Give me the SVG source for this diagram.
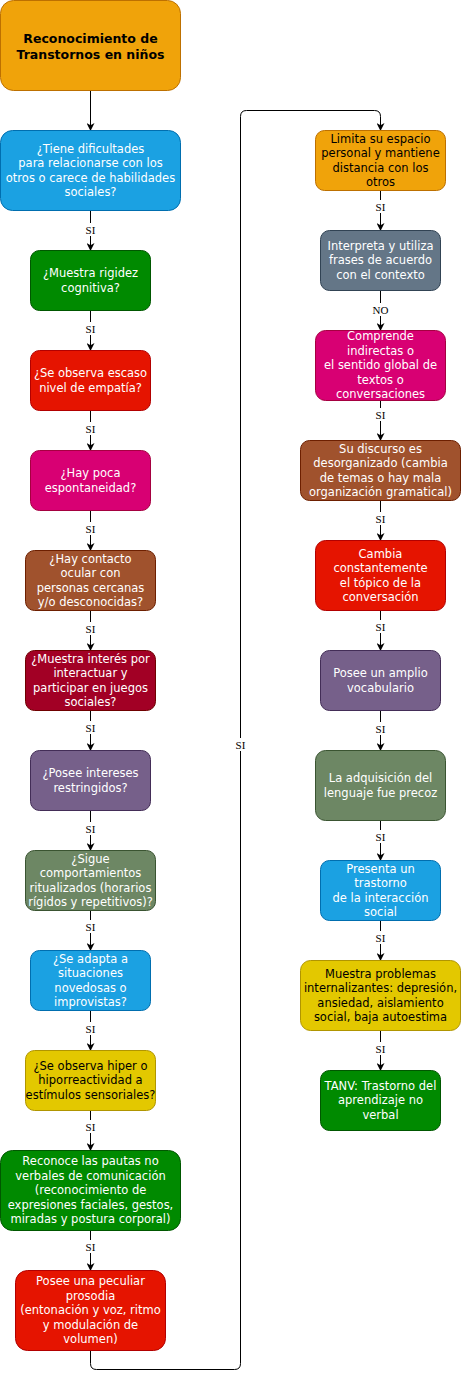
<svg xmlns="http://www.w3.org/2000/svg" width="461" height="1379" viewBox="0 0 461 1379">
<defs>
<marker id="arr" viewBox="0 0 8 8" refX="7.5" refY="4" markerWidth="8" markerHeight="8" markerUnits="userSpaceOnUse" orient="auto">
<path d="M0,0 L8,4 L0,8 L2.2,4 Z" fill="#000"/>
</marker>
<style>
.n{stroke-width:1}
.t{font-family:"DejaVu Sans","Liberation Sans",sans-serif;font-size:11.5px;text-anchor:middle;fill:#fff}
.d{fill:#000}
.tb{font-family:"DejaVu Sans","Liberation Sans",sans-serif;font-size:12.5px;font-weight:bold;text-anchor:middle;fill:#000}
.e{fill:none;stroke:#000;stroke-width:1;marker-end:url(#arr)}
.lb{fill:#fff}
.l{font-family:"Liberation Serif","DejaVu Serif",serif;font-size:11px;text-anchor:middle;fill:#000}
.orange{fill:#f0a30a;stroke:#bd7000}
.blue{fill:#1ba1e2;stroke:#006eaf}
.green{fill:#008a00;stroke:#005700}
.red{fill:#e51400;stroke:#b20000}
.pink{fill:#d80073;stroke:#a50040}
.brown{fill:#a0522d;stroke:#6d1f00}
.crimson{fill:#a20025;stroke:#6f0000}
.purple{fill:#76608a;stroke:#432d57}
.olive{fill:#6d8764;stroke:#3a5431}
.yellow{fill:#e3c800;stroke:#b09500}
.slate{fill:#647687;stroke:#314354}
</style>
</defs>
<rect width="461" height="1379" fill="#fff"/>

<g id="connectors">
<path class="e" d="M90.5,90.5 V130.5"/>
<path class="e" d="M90.5,210.5 V250.5"/>
<path class="e" d="M90.5,310.5 V350.5"/>
<path class="e" d="M90.5,410.5 V450.5"/>
<path class="e" d="M90.5,510.5 V550.5"/>
<path class="e" d="M90.5,610.5 V650.5"/>
<path class="e" d="M90.5,710.5 V750.5"/>
<path class="e" d="M90.5,810.5 V850.5"/>
<path class="e" d="M90.5,910.5 V950.5"/>
<path class="e" d="M90.5,1010.5 V1050.5"/>
<path class="e" d="M90.5,1110.5 V1150.5"/>
<path class="e" d="M90.5,1230.5 V1270.5"/>
<path class="e" d="M90.5,1350.5 V1363.5 Q90.5,1369.5 96.5,1369.5 H234.5 Q240.5,1369.5 240.5,1363.5 V116.5 Q240.5,110.5 246.5,110.5 H374.5 Q380.5,110.5 380.5,116.5 V130.5"/>
<path class="e" d="M380.5,190.5 V230.5"/>
<path class="e" d="M380.5,290.5 V330.5"/>
<path class="e" d="M380.5,400.5 V440.5"/>
<path class="e" d="M380.5,500.5 V540.5"/>
<path class="e" d="M380.5,610.5 V650.5"/>
<path class="e" d="M380.5,710.5 V750.5"/>
<path class="e" d="M380.5,820.5 V860.5"/>
<path class="e" d="M380.5,920.5 V960.5"/>
<path class="e" d="M380.5,1030.5 V1070.5"/>
<g id="labels">
<rect class="lb" x="84" y="223" width="13" height="13"/><text class="l" x="90.5" y="233.5">SI</text>
<rect class="lb" x="84" y="322" width="13" height="13"/><text class="l" x="90.5" y="332.5">SI</text>
<rect class="lb" x="84" y="422" width="13" height="13"/><text class="l" x="90.5" y="432.5">SI</text>
<rect class="lb" x="84" y="522" width="13" height="13"/><text class="l" x="90.5" y="532.5">SI</text>
<rect class="lb" x="84" y="622" width="13" height="13"/><text class="l" x="90.5" y="632.5">SI</text>
<rect class="lb" x="84" y="721" width="13" height="13"/><text class="l" x="90.5" y="731.5">SI</text>
<rect class="lb" x="84" y="822" width="13" height="13"/><text class="l" x="90.5" y="832.5">SI</text>
<rect class="lb" x="84" y="920" width="13" height="13"/><text class="l" x="90.5" y="930.5">SI</text>
<rect class="lb" x="84" y="1022" width="13" height="13"/><text class="l" x="90.5" y="1032.5">SI</text>
<rect class="lb" x="84" y="1120" width="13" height="13"/><text class="l" x="90.5" y="1130.5">SI</text>
<rect class="lb" x="84" y="1240" width="13" height="13"/><text class="l" x="90.5" y="1250.5">SI</text>
<rect class="lb" x="234" y="738" width="13" height="13"/><text class="l" x="240.5" y="748.5">SI</text>
<rect class="lb" x="374" y="200" width="13" height="13"/><text class="l" x="380.5" y="210.5">SI</text>
<rect class="lb" x="372" y="303" width="17" height="13"/><text class="l" x="380.5" y="313.5">NO</text>
<rect class="lb" x="374" y="408" width="13" height="13"/><text class="l" x="380.5" y="418.5">SI</text>
<rect class="lb" x="374" y="512" width="13" height="13"/><text class="l" x="380.5" y="522.5">SI</text>
<rect class="lb" x="374" y="620" width="13" height="13"/><text class="l" x="380.5" y="630.5">SI</text>
<rect class="lb" x="374" y="722" width="13" height="13"/><text class="l" x="380.5" y="732.5">SI</text>
<rect class="lb" x="374" y="830" width="13" height="13"/><text class="l" x="380.5" y="840.5">SI</text>
<rect class="lb" x="374" y="931" width="13" height="13"/><text class="l" x="380.5" y="941.5">SI</text>
<rect class="lb" x="374" y="1042" width="13" height="13"/><text class="l" x="380.5" y="1052.5">SI</text>
</g>
</g>

<g id="n0"><rect class="n orange" x="0.5" y="0.5" width="180" height="90" rx="13"/>
<text class="tb" x="90.5" y="42.5"><tspan x="90.5">Reconocimiento de</tspan><tspan x="90.5" dy="16">Transtornos en niños</tspan></text></g>

<g id="n1"><rect class="n blue" x="0.5" y="130.5" width="180" height="80" rx="12"/>
<text class="t" x="90.5" y="152.5"><tspan x="90.5">¿Tiene dificultades</tspan><tspan x="90.5" dy="14.5">para relacionarse con los</tspan><tspan x="90.5" dy="14.5">otros o carece de habilidades</tspan><tspan x="90.5" dy="14.5">sociales?</tspan></text></g>

<g id="n2"><rect class="n green" x="30.5" y="250.5" width="120" height="60" rx="9"/>
<text class="t" x="90.5" y="277"><tspan x="90.5">¿Muestra rigidez</tspan><tspan x="90.5" dy="14.5">cognitiva?</tspan></text></g>

<g id="n3"><rect class="n red" x="30.5" y="350.5" width="120" height="60" rx="9"/>
<text class="t" x="90.5" y="377"><tspan x="90.5">¿Se observa escaso</tspan><tspan x="90.5" dy="14.5">nivel de empatía?</tspan></text></g>

<g id="n4"><rect class="n pink" x="30.5" y="450.5" width="120" height="60" rx="9"/>
<text class="t" x="90.5" y="477"><tspan x="90.5">¿Hay poca</tspan><tspan x="90.5" dy="14.5">espontaneidad?</tspan></text></g>

<g id="n5"><rect class="n brown" x="25.5" y="550.5" width="130" height="60" rx="9"/>
<text class="t" x="90.5" y="562.5"><tspan x="90.5">¿Hay contacto</tspan><tspan x="90.5" dy="14.5">ocular con</tspan><tspan x="90.5" dy="14.5">personas cercanas</tspan><tspan x="90.5" dy="14.5">y/o desconocidas?</tspan></text></g>

<g id="n6"><rect class="n crimson" x="25.5" y="650.5" width="130" height="60" rx="9"/>
<text class="t" x="90.5" y="662.5"><tspan x="90.5">¿Muestra interés por</tspan><tspan x="90.5" dy="14.5">interactuar y</tspan><tspan x="90.5" dy="14.5">participar en juegos</tspan><tspan x="90.5" dy="14.5">sociales?</tspan></text></g>

<g id="n7"><rect class="n purple" x="30.5" y="750.5" width="120" height="60" rx="9"/>
<text class="t" x="90.5" y="777"><tspan x="90.5">¿Posee intereses</tspan><tspan x="90.5" dy="14.5">restringidos?</tspan></text></g>

<g id="n8"><rect class="n olive" x="25.5" y="850.5" width="130" height="60" rx="9"/>
<text class="t" x="90.5" y="862.5"><tspan x="90.5">¿Sigue</tspan><tspan x="90.5" dy="14.5">comportamientos</tspan><tspan x="90.5" dy="14.5">ritualizados (horarios</tspan><tspan x="90.5" dy="14.5">rígidos y repetitivos)?</tspan></text></g>

<g id="n9"><rect class="n blue" x="30.5" y="950.5" width="120" height="60" rx="9"/>
<text class="t" x="90.5" y="962.5"><tspan x="90.5">¿Se adapta a</tspan><tspan x="90.5" dy="14.5">situaciones</tspan><tspan x="90.5" dy="14.5">novedosas o</tspan><tspan x="90.5" dy="14.5">improvistas?</tspan></text></g>

<g id="n10"><rect class="n yellow" x="25.5" y="1050.5" width="130" height="60" rx="9"/>
<text class="t d" x="90.5" y="1069.5"><tspan x="90.5">¿Se observa hiper o</tspan><tspan x="90.5" dy="14.5">hiporreactividad a</tspan><tspan x="90.5" dy="14.5">estímulos sensoriales?</tspan></text></g>

<g id="n11"><rect class="n green" x="0.5" y="1150.5" width="180" height="80" rx="12"/>
<text class="t" x="90.5" y="1165"><tspan x="90.5">Reconoce las pautas no</tspan><tspan x="90.5" dy="14.5">verbales de comunicación</tspan><tspan x="90.5" dy="14.5">(reconocimiento de</tspan><tspan x="90.5" dy="14.5">expresiones faciales, gestos,</tspan><tspan x="90.5" dy="14.5">miradas y postura corporal)</tspan></text></g>

<g id="n12"><rect class="n red" x="15.5" y="1270.5" width="150" height="80" rx="12"/>
<text class="t" x="90.5" y="1285"><tspan x="90.5">Posee una peculiar</tspan><tspan x="90.5" dy="14.5">prosodia</tspan><tspan x="90.5" dy="14.5">(entonación y voz, ritmo</tspan><tspan x="90.5" dy="14.5">y modulación de</tspan><tspan x="90.5" dy="14.5">volumen)</tspan></text></g>

<g id="r1"><rect class="n orange" x="315.5" y="130.5" width="130" height="60" rx="9"/>
<text class="t d" x="380.5" y="142.5"><tspan x="380.5">Limita su espacio</tspan><tspan x="380.5" dy="14.5">personal y mantiene</tspan><tspan x="380.5" dy="14.5">distancia con los</tspan><tspan x="380.5" dy="14.5">otros</tspan></text></g>

<g id="r2"><rect class="n slate" x="320.5" y="230.5" width="120" height="60" rx="9"/>
<text class="t" x="380.5" y="249.5"><tspan x="380.5">Interpreta y utiliza</tspan><tspan x="380.5" dy="14.5">frases de acuerdo</tspan><tspan x="380.5" dy="14.5">con el contexto</tspan></text></g>

<g id="r3"><rect class="n pink" x="315.5" y="330.5" width="130" height="70" rx="10"/>
<text class="t" x="380.5" y="340"><tspan x="380.5">Comprende</tspan><tspan x="380.5" dy="14.5">indirectas o</tspan><tspan x="380.5" dy="14.5">el sentido global de</tspan><tspan x="380.5" dy="14.5">textos o</tspan><tspan x="380.5" dy="14.5">conversaciones</tspan></text></g>

<g id="r4"><rect class="n brown" x="300.5" y="440.5" width="160" height="60" rx="9"/>
<text class="t" x="380.5" y="452.5"><tspan x="380.5">Su discurso es</tspan><tspan x="380.5" dy="14.5">desorganizado (cambia</tspan><tspan x="380.5" dy="14.5">de temas o hay mala</tspan><tspan x="380.5" dy="14.5">organización gramatical)</tspan></text></g>

<g id="r5"><rect class="n red" x="315.5" y="540.5" width="130" height="70" rx="10"/>
<text class="t" x="380.5" y="557.5"><tspan x="380.5">Cambia</tspan><tspan x="380.5" dy="14.5">constantemente</tspan><tspan x="380.5" dy="14.5">el tópico de la</tspan><tspan x="380.5" dy="14.5">conversación</tspan></text></g>

<g id="r6"><rect class="n purple" x="320.5" y="650.5" width="120" height="60" rx="9"/>
<text class="t" x="380.5" y="677"><tspan x="380.5">Posee un amplio</tspan><tspan x="380.5" dy="14.5">vocabulario</tspan></text></g>

<g id="r7"><rect class="n olive" x="315.5" y="750.5" width="130" height="70" rx="10"/>
<text class="t" x="380.5" y="782"><tspan x="380.5">La adquisición del</tspan><tspan x="380.5" dy="14.5">lenguaje fue precoz</tspan></text></g>

<g id="r8"><rect class="n blue" x="320.5" y="860.5" width="120" height="60" rx="9"/>
<text class="t" x="380.5" y="872.5"><tspan x="380.5">Presenta un</tspan><tspan x="380.5" dy="14.5">trastorno</tspan><tspan x="380.5" dy="14.5">de la interacción</tspan><tspan x="380.5" dy="14.5">social</tspan></text></g>

<g id="r9"><rect class="n yellow" x="300.5" y="960.5" width="160" height="70" rx="10"/>
<text class="t d" x="380.5" y="977.5"><tspan x="380.5">Muestra problemas</tspan><tspan x="380.5" dy="14.5">internalizantes: depresión,</tspan><tspan x="380.5" dy="14.5">ansiedad, aislamiento</tspan><tspan x="380.5" dy="14.5">social, baja autoestima</tspan></text></g>

<g id="r10"><rect class="n green" x="320.5" y="1070.5" width="120" height="60" rx="9"/>
<text class="t" x="380.5" y="1089.5"><tspan x="380.5">TANV: Trastorno del</tspan><tspan x="380.5" dy="14.5">aprendizaje no</tspan><tspan x="380.5" dy="14.5">verbal</tspan></text></g>
</svg>
